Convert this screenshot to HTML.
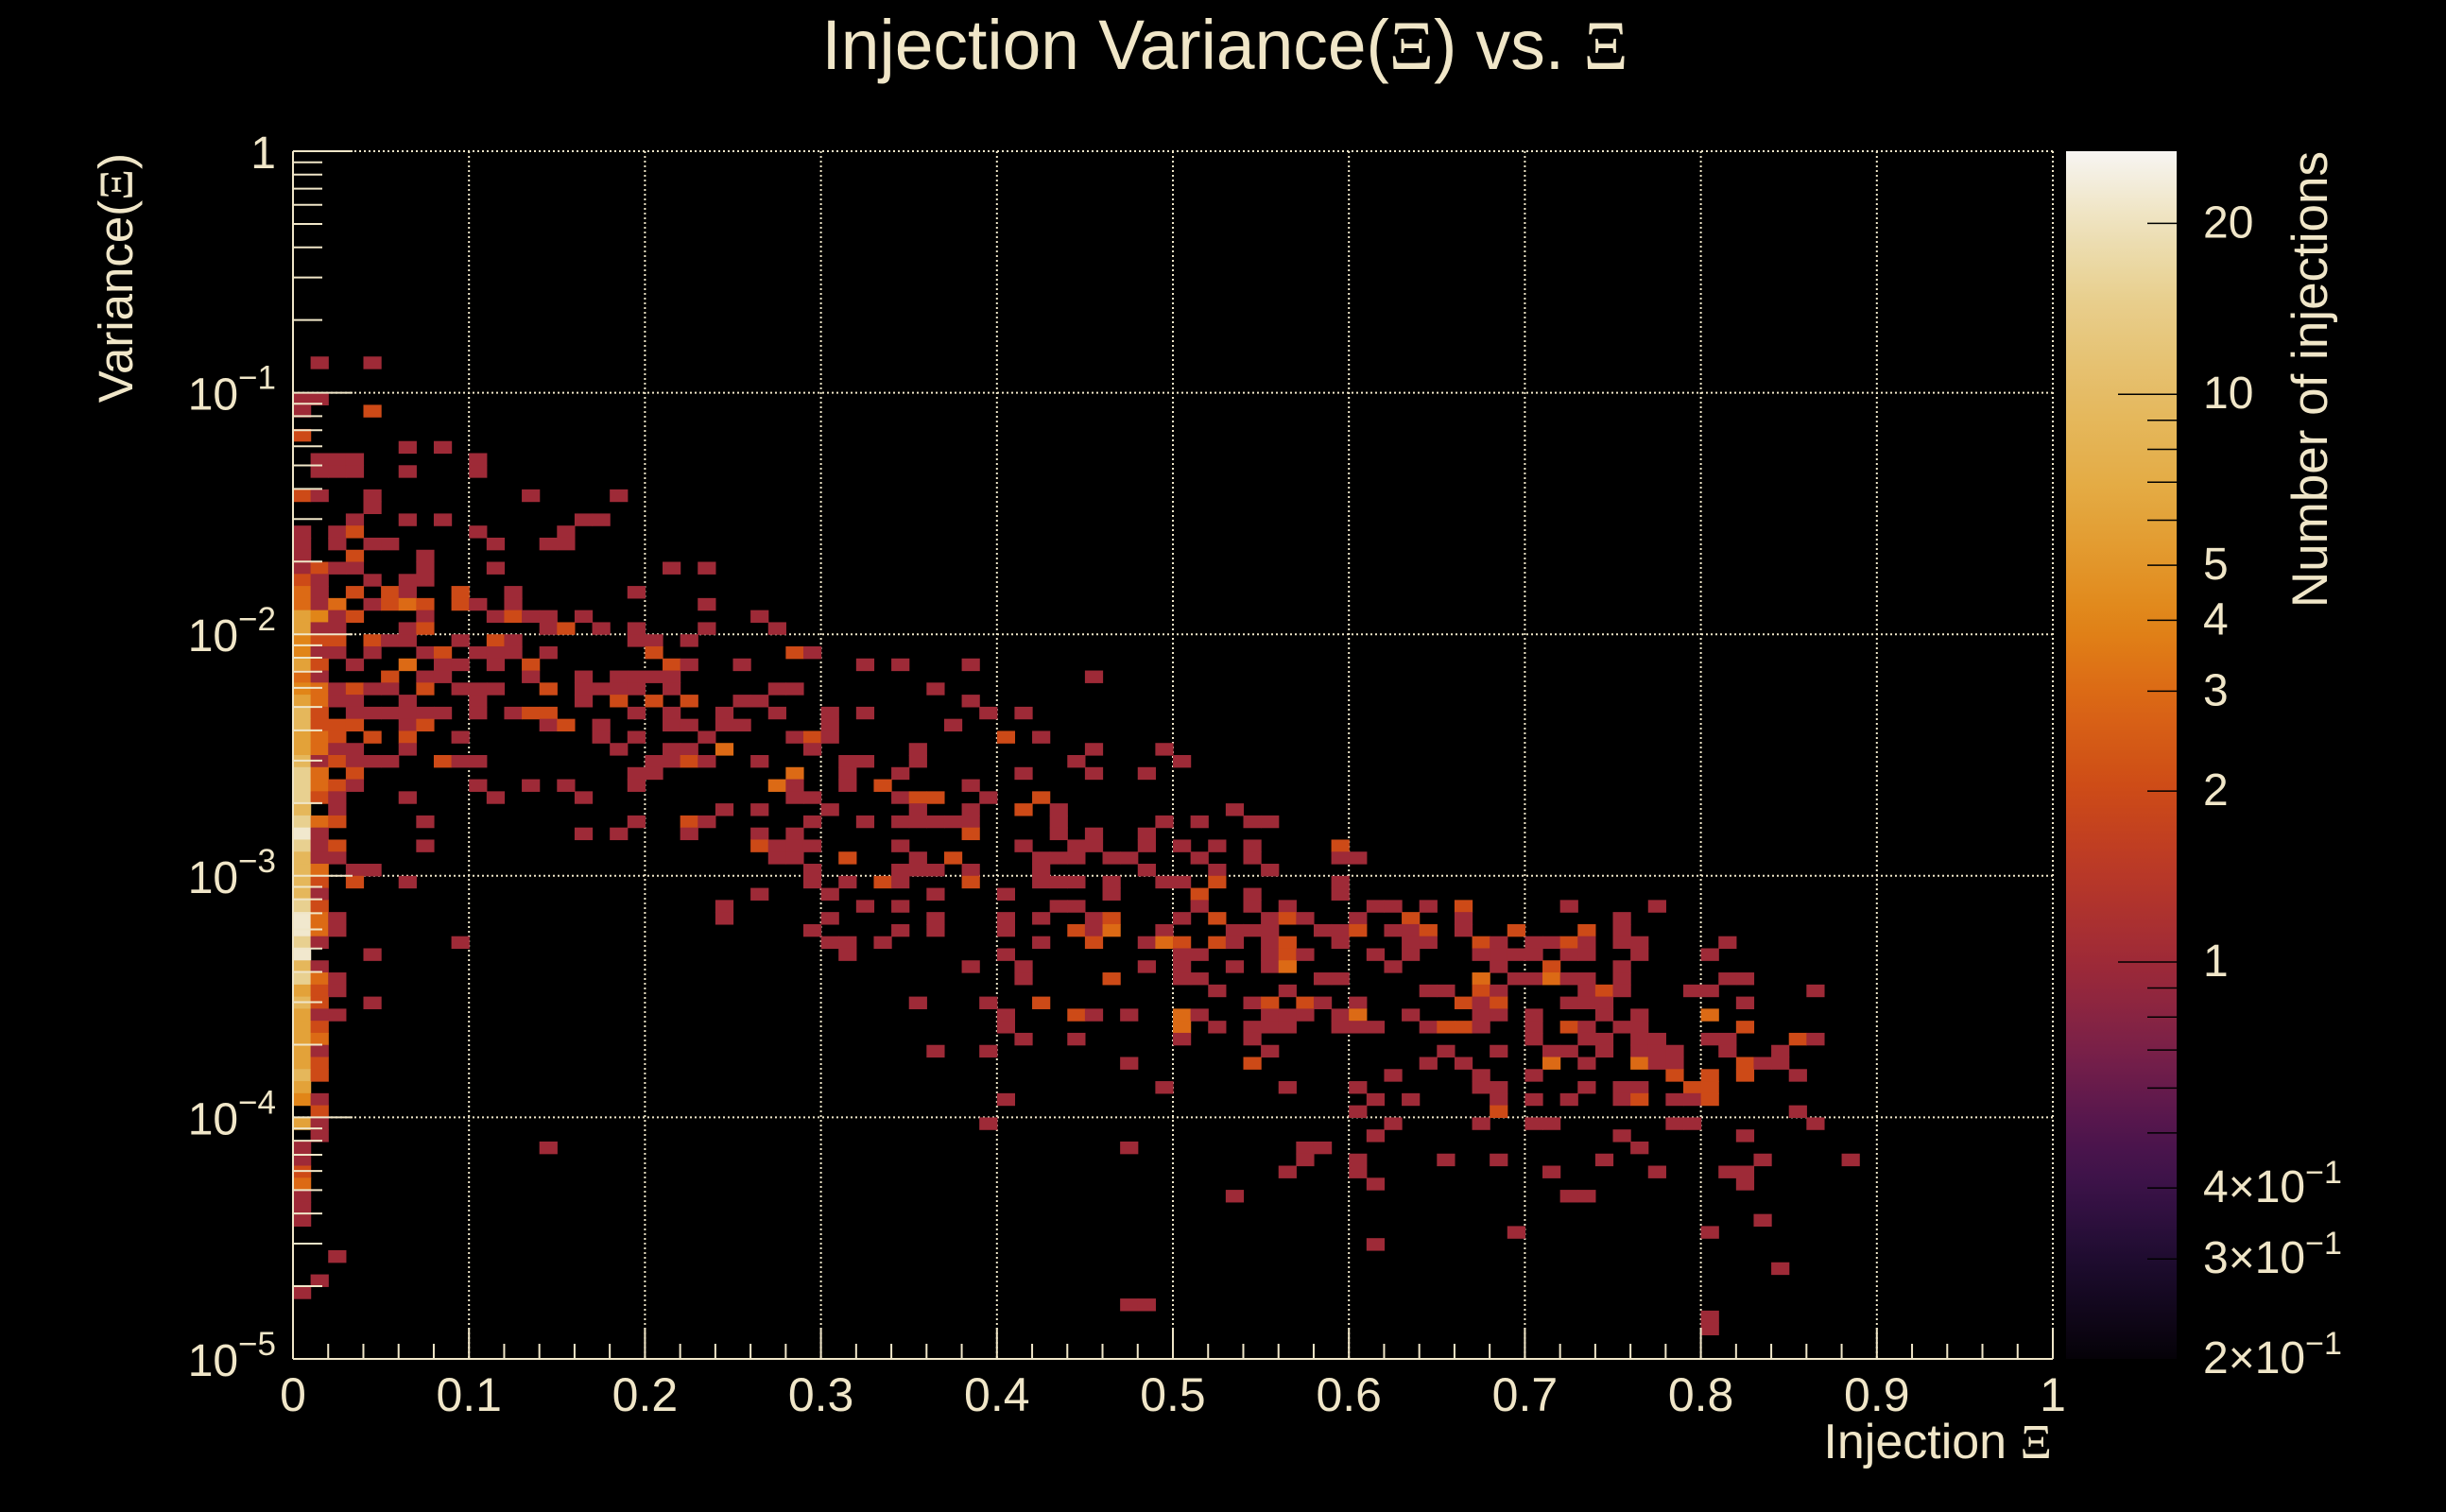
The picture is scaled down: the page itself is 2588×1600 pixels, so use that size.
<!DOCTYPE html>
<html>
<head>
<meta charset="utf-8">
<style>
html,body{margin:0;padding:0;background:#000;}
svg{display:block;}
text{font-family:"Liberation Sans",Arial,sans-serif;fill:#f0e6c8;}
.xi{font-family:"Liberation Serif","DejaVu Serif",serif;}
</style>
</head>
<body>
<svg id="chart" xmlns="http://www.w3.org/2000/svg" width="2588" height="1600" viewBox="0 0 2588 1600">
<rect x="0" y="0" width="2588" height="1600" fill="#000"/>
<defs>
<linearGradient id="cbgrad" x1="0" y1="1" x2="0" y2="0"></linearGradient>
</defs>
<g id="grid"></g>
<g id="cells"></g>
<g id="axes"></g>
<g id="colorbar"></g>
<text x="1296" y="73" text-anchor="middle" font-size="74" textLength="853" lengthAdjust="spacingAndGlyphs">Injection Variance(<tspan class="xi">Ξ</tspan>) vs. <tspan class="xi">Ξ</tspan></text>
<text transform="translate(140,162) rotate(-90)" text-anchor="end" font-size="51">Variance(<tspan class="xi">Ξ</tspan>)</text>
<text x="2171" y="1543" text-anchor="end" font-size="52">Injection <tspan class="xi">Ξ</tspan></text>
<text transform="translate(2462,160) rotate(-90)" text-anchor="end" font-size="53">Number of injections</text>
</svg>
<script>
// ---- data: heatmap bins (x bin index 0..99 of width 0.01; y row index from top, 20 rows per decade) ----
const rowY = [17,20,21,23,24,25,26,28,29,30,31,32,33,34,35,36,37,38,39,40,41,42,43,44,45,46,47,48,49,50,51,52,53,54,55,56,57,58,59,60,61,62,63,64,65,66,67,68,69,70,71,72,73,74,75,76,77,78,79,80,81,82,83,84,85,86,87,88,89,90,91,92,93,94,95,96,97];
const rowX = [
[1,4],[0,1],[0,4],[0],[6,8],[1,2,3,10],[1,2,3,6,10],[0,1,4,13,18],[4],[3,6,8,16,17],
[0,2,3,10,15],[0,2,4,5,11,14,15],[0,3,7],[0,1,2,3,7,11,21,23],[0,1,4,6,7],
[0,1,3,5,6,9,12,19],[0,1,2,4,5,6,7,9,10,12,23],[0,1,2,3,7,11,12,13,14,16,26],
[0,1,2,6,7,14,15,17,19,23,27],[0,1,2,4,5,6,9,11,12,19,20,22],
[0,1,2,4,7,8,10,11,12,14,20,28,29],[0,1,3,6,8,9,11,13,21,22,25,32,34,38],
[0,1,5,7,8,13,16,18,19,20,21,45],[0,1,2,3,4,5,7,9,10,11,14,16,17,18,19,21,27,28,36],
[0,1,2,3,6,10,16,18,20,22,25,26,38],[0,1,3,4,5,6,7,8,10,12,13,14,19,21,24,27,30,32,39,41],
[0,1,2,3,6,7,14,15,17,21,22,24,25,30,37],[0,1,2,4,6,9,17,19,23,28,29,30,40,42],
[0,1,2,3,6,18,21,22,24,29,35,45,49],[0,1,2,3,4,5,8,9,10,20,21,22,23,26,31,32,35,44,50],
[0,1,3,19,20,28,31,34,41,45,48],[0,1,2,3,10,13,15,19,27,28,31,33,38],
[0,1,2,6,11,16,28,29,34,35,36,39,42],[0,2,24,26,30,35,38,41,43,53],
[0,1,2,7,19,22,23,29,32,34,35,36,37,38,43,49,51,54,55],[0,1,16,18,22,26,28,38,43,45,48],
[0,1,2,7,26,27,28,29,34,41,44,45,48,50,52,54,59],[0,1,2,27,28,31,35,37,42,43,44,46,47,51,54,59,60],
[0,1,3,4,29,34,35,36,38,42,48,52,55],[0,1,3,6,29,31,33,34,38,42,43,44,46,49,50,52,59],
[0,1,26,30,36,40,46,51,54,59],[0,1,24,32,34,43,44,51,54,56,61,62,64,66,72,77],
[0,1,2,24,30,36,40,42,45,46,50,52,55,56,57,60,63,66,75],
[0,1,2,29,34,36,40,44,45,46,49,53,54,55,58,59,60,62,63,64,66,69,73,75],
[0,1,9,30,31,33,42,45,48,49,50,52,53,55,56,59,63,64,67,68,70,71,72,73,75,76,81],
[0,4,31,40,50,51,55,56,57,61,63,67,68,69,70,72,73,76,80],
[0,1,38,41,48,50,53,55,56,62,68,71,75],[0,1,2,41,46,50,51,58,59,67,69,70,71,72,73,75,81,82],
[0,1,2,52,56,64,65,67,68,73,74,75,79,80,86],[0,1,4,35,39,42,54,55,57,58,60,66,67,68,72,73,74,82],
[0,1,2,40,44,45,47,50,51,55,56,57,59,60,63,67,68,70,74,76,80],
[0,1,40,50,52,54,55,56,59,60,61,64,65,66,67,70,72,73,75,76,82],
[0,1,41,44,50,54,70,73,74,76,77,80,81,85,86],[0,1,36,39,55,65,68,71,72,74,76,77,78,81,84],
[0,1,47,54,64,66,71,73,76,77,78,82,83,84],[0,1,62,67,70,78,80,82,85],
[0,49,56,60,67,68,73,75,76,79,80],[0,1,40,61,63,68,70,72,75,76,78,79,80],
[1,60,68,85],[0,1,39,62,67,70,71,78,79,86],[1,61,75,82],[0,14,47,57,58,76],
[0,57,60,65,68,74,83,88],[0,56,60,71,77,81,82],[0,61,82],[0,53,72,73],[0],[0,83],[69,80],
[61],[2],[84],[1],[0],[47,48],[80],[80]
];
const rowN = [
[1,1],[1,1],[1,2],[2],[1,1],[1,1,1,1],[1,1,1,1,1],[2,1,1,1,1],[1],[1,1,1,1,1],
[1,1,2,1,1],[1,1,1,1,1,1,1],[1,2,1],[1,2,1,1,1,1,1,1],[2,1,1,1,1],
[3,1,2,2,1,2,1,1],[3,1,3,1,2,3,2,2,1,1,1],[6,4,1,2,1,1,2,1,1,1,1],
[6,1,1,1,2,1,2,1,1,1,1],[4,2,2,2,1,1,1,2,1,1,1,1],
[4,1,1,1,1,2,1,1,1,1,2,2,1],[6,2,1,3,1,1,1,2,2,1,1,1,1,1],
[3,1,2,1,1,1,1,1,1,1,1,1],[4,3,1,2,1,1,2,1,1,1,2,1,1,1,1,1,1,1,1],
[6,3,1,1,1,1,1,2,2,2,1,1,1],[9,2,1,1,1,1,1,1,1,1,2,2,1,1,1,1,1,1,1,1],
[9,2,2,2,1,2,1,2,1,1,1,1,1,1,1],[6,3,2,2,2,1,1,1,1,1,2,1,2,1],
[6,3,1,1,1,1,1,1,3,1,1,1,1],[9,1,2,1,1,1,2,1,1,1,1,2,1,1,1,1,1,1,1],
[15,3,2,1,1,3,1,1,1,1,1],[15,3,2,1,1,1,1,1,3,1,1,2,1],
[15,2,1,1,1,1,1,1,1,2,2,1,2],[9,1,1,1,1,1,1,2,1,1],
[15,3,2,1,1,2,1,1,1,1,1,1,1,1,1,1,1,1,1],[22,1,1,1,1,1,1,2,1,1,1],
[15,1,2,1,2,1,1,1,1,1,1,1,1,1,1,1,2],[9,1,1,1,1,2,1,2,1,1,1,1,1,1,1,1,1],
[9,3,1,1,1,1,1,1,1,1,1,1,1],[9,2,2,1,1,1,2,1,2,1,1,1,1,1,1,2,1],
[9,1,1,1,1,1,1,2,1,1],[15,2,1,1,1,1,1,1,1,1,1,1,1,2,1,1],
[22,3,1,1,1,1,1,1,1,2,1,2,1,2,1,1,2,1,1],
[22,3,1,1,1,1,1,2,1,3,1,1,1,1,1,1,2,1,1,2,1,2,2,1],
[15,1,1,1,1,1,1,2,1,3,2,2,1,1,2,1,1,1,2,1,1,1,2,1,1,1,1],
[22,1,1,1,1,1,1,2,1,1,1,1,1,1,1,1,1,1,1],
[9,1,1,1,1,1,1,1,3,1,1,2,1],[15,3,1,1,2,1,1,1,1,3,1,1,3,1,1,1,1,1],
[6,2,1,1,1,1,1,2,1,1,2,1,1,1,1],[9,2,1,1,1,2,1,2,2,1,1,2,1,2,1,1,1,1],
[6,1,1,1,2,1,1,3,1,1,1,1,1,3,1,1,1,1,1,1,3],
[6,2,1,3,1,1,1,1,1,1,1,1,2,2,1,1,2,1,1,1,2],
[6,3,1,1,1,1,1,1,1,1,1,1,1,2,1],[6,1,1,1,1,1,1,1,1,1,1,1,1,1,1],
[6,2,1,2,1,1,3,1,3,1,1,2,1,1],[9,2,1,1,1,2,2,2,1],
[6,1,1,1,1,1,1,1,1,2,2],[4,1,1,1,1,1,1,1,1,2,1,1,2],
[2,1,2,1],[6,1,1,1,1,1,1,1,1,1],[1,1,1,1],[1,1,1,1,1,1],
[1,1,1,1,1,1,1,1],[2,1,1,1,1,1,1],[3,1,1],[1,1,1,1],[1],[1,1],[1,1],
[1],[1],[1],[1],[1],[1,1],[1],[1]
];
// axis tick labels
const xTickValues = [0,0.1,0.2,0.3,0.4,0.5,0.6,0.7,0.8,0.9,1];
const xTickLabels = ["0","0.1","0.2","0.3","0.4","0.5","0.6","0.7","0.8","0.9","1"];
const yDecades = [0,-1,-2,-3,-4,-5];
const zLabelValues = [20,10,5,4,3,2,1,0.4,0.3,0.2];
const zLabelMant = ["20","10","5","4","3","2","1","4","3","2"];

// ---- geometry ----
const X0 = 310, X1 = 2172, Y0 = 160, Y1 = 1438;
const XMIN = 0, XMAX = 1, LYMIN = -5, LYMAX = 0;
const ZMIN = 0.2, ZMAX = 26.8;
const NS = "http://www.w3.org/2000/svg";
const CREAM = "#f0e6c8";
function xScale(v){ return X0 + (v - XMIN) / (XMAX - XMIN) * (X1 - X0); }
function yScale(v){ return Y1 - (Math.log10(v) - LYMIN) / (LYMAX - LYMIN) * (Y1 - Y0); }
const CB_Y0 = 160, CB_Y1 = 1438, CB_X0 = 2186, CB_X1 = 2303;
function zScale(c){ return CB_Y1 - Math.log10(c / ZMIN) / Math.log10(ZMAX / ZMIN) * (CB_Y1 - CB_Y0); }
function zT(c){ return Math.max(0, Math.min(1, Math.log10(c / ZMIN) / Math.log10(ZMAX / ZMIN))); }

const stops = [
 [0,"#050208"],[0.0828,"#1e0c30"],[0.1415,"#3a1248"],[0.187,"#50154e"],[0.256,"#7a2048"],
 [0.329,"#9e2a37"],[0.411,"#bc3a26"],[0.47,"#cd4a17"],[0.553,"#dc6a15"],[0.612,"#e18518"],
 [0.657,"#e2962a"],[0.726,"#e4ac45"],[0.799,"#e5bc65"],[0.882,"#e8d090"],[0.94,"#eee2bc"],[1,"#f7f5f2"]
];
function hex2rgb(h){ return [parseInt(h.substr(1,2),16),parseInt(h.substr(3,2),16),parseInt(h.substr(5,2),16)]; }
function colorAt(t){
  for (let i = 1; i < stops.length; i++) {
    if (t <= stops[i][0]) {
      const a = stops[i-1], b = stops[i];
      const f = (t - a[0]) / (b[0] - a[0]);
      const ca = hex2rgb(a[1]), cb = hex2rgb(b[1]);
      return "rgb(" + ca.map((v,k)=>Math.round(v + (cb[k]-v)*f)).join(",") + ")";
    }
  }
  return stops[stops.length-1][1];
}
function mk(tag, attrs, parent){
  const el = document.createElementNS(NS, tag);
  for (const k in attrs) el.setAttribute(k, attrs[k]);
  parent.appendChild(el);
  return el;
}

// ---- grid ----
const grid = document.getElementById("grid");
xTickValues.forEach(function(v){
  if (v === 0) return;
  const ln = mk("line", {x1:xScale(v), x2:xScale(v), y1:Y0, y2:Y1, stroke:CREAM, "stroke-width":2, "stroke-dasharray":"2 3"}, grid);
  
  
});
yDecades.forEach(function(d){
  if (d === LYMIN) return;
  const y = yScale(Math.pow(10, d));
  const ln = mk("line", {x1:X0, x2:X1, y1:y, y2:y, stroke:CREAM, "stroke-width":2, "stroke-dasharray":"2 3"}, grid);
  
  
});

// ---- cells ----
const cellsG = document.getElementById("cells");
const BINW = 0.01, ROWD = 0.05;
rowY.forEach(function(k, r){
  const yTop = yScale(Math.pow(10, -k * ROWD));
  const yBot = yScale(Math.pow(10, -(k + 1) * ROWD));
  rowX[r].forEach(function(ix, j){
    const c = rowN[r][j];
    const xa = xScale(ix * BINW), xb = xScale((ix + 1) * BINW);
    const rc = mk("rect", {x:xa, y:yTop, width:(xb - xa) + 0.6, height:(yBot - yTop) + 0.6, fill:colorAt(zT(c))}, cellsG);
    
    
  });
});

// ---- axes ----
const axes = document.getElementById("axes");
let a1 = mk("line", {x1:X0, x2:X0, y1:Y0, y2:Y1, stroke:CREAM, "stroke-width":2}, axes);


let a2 = mk("line", {x1:X0, x2:X1, y1:Y1, y2:Y1, stroke:CREAM, "stroke-width":2}, axes);


let a3 = mk("line", {x1:X0, x2:X1, y1:Y0, y2:Y0, stroke:CREAM, "stroke-width":2, "stroke-dasharray":"2 3"}, axes);


let a4 = mk("line", {x1:X1, x2:X1, y1:Y0, y2:Y1, stroke:CREAM, "stroke-width":2, "stroke-dasharray":"2 3"}, axes);



// x ticks
for (let m = 0; m <= 50; m++) {
  const v = m * 0.02;
  const major = (m % 5 === 0);
  const x = xScale(v);
  const t = mk("line", {x1:x, x2:x, y1:Y1, y2:Y1 - (major ? 33 : 16), stroke:CREAM, "stroke-width":2}, axes);
  
  
}
xTickValues.forEach(function(v, i){
  const tx = mk("text", {x:xScale(v), y:1493, "text-anchor":"middle", "font-size":50}, axes);
  tx.textContent = xTickLabels[i];
  
  
});
// y ticks
yDecades.forEach(function(d){
  const y = yScale(Math.pow(10, d));
  const t = mk("line", {x1:X0, x2:X0 + 63, y1:y, y2:y, stroke:CREAM, "stroke-width":2}, axes);
  
  
  if (d < 0) {
    for (let m = 2; m <= 9; m++) {
      const ym = yScale(m * Math.pow(10, d));
      const tm = mk("line", {x1:X0, x2:X0 + 31, y1:ym, y2:ym, stroke:CREAM, "stroke-width":2}, axes);
      
      
    }
  }
  const lb = mk("text", {x:292, y:y + 18, "text-anchor":"end", "font-size":48}, axes);
  
  
  if (d === 0) {
    lb.textContent = "1";
  } else {
    const base = document.createElementNS(NS, "tspan");
    base.textContent = "10";
    lb.appendChild(base);
    const sup = document.createElementNS(NS, "tspan");
    sup.setAttribute("dy", "-22");
    sup.setAttribute("font-size", "35");
    sup.textContent = "\u2212" + (-d);
    lb.appendChild(sup);
  }
});

// ---- color bar ----
const grad = document.getElementById("cbgrad");
for (let i = 0; i <= 40; i++) {
  const t = i / 40;
  mk("stop", {offset:t, "stop-color":colorAt(t)}, grad);
}
const cb = document.getElementById("colorbar");
const cbr = mk("rect", {x:CB_X0, y:CB_Y0, width:CB_X1 - CB_X0, height:CB_Y1 - CB_Y0, fill:"url(#cbgrad)"}, cb);


const cbTicks = [0.3,0.4,0.5,0.6,0.7,0.8,0.9,1,2,3,4,5,6,7,8,9,10,20];
cbTicks.forEach(function(c){
  const y = zScale(c);
  const major = (c === 1 || c === 10);
  const t = mk("line", {x1:CB_X1 - (major ? 62 : 31), x2:CB_X1, y1:y, y2:y, stroke:"#000", "stroke-width":1.5}, cb);
  
  
});
zLabelValues.forEach(function(c, i){
  const y = zScale(c);
  const lb = mk("text", {x:2331, y:Math.min(y + 15, 1458), "font-size":48}, cb);
  
  
  if (c >= 1) {
    lb.textContent = zLabelMant[i];
  } else {
    const m = document.createElementNS(NS, "tspan");
    m.textContent = zLabelMant[i] + "\u00d710";
    lb.appendChild(m);
    const sup = document.createElementNS(NS, "tspan");
    sup.setAttribute("dy", "-20");
    sup.setAttribute("font-size", "34");
    sup.textContent = "\u22121";
    lb.appendChild(sup);
  }
});
</script>
</body>
</html>
